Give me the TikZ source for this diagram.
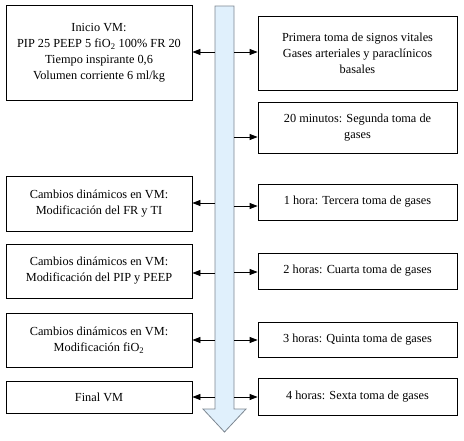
\documentclass[tikz,border=0pt]{standalone}
\usepackage{fontspec}
\setmainfont{Liberation Serif}
\usetikzlibrary{arrows.meta}
\definecolor{shaftfill}{RGB}{224,240,252}
\definecolor{shaftline}{RGB}{125,135,145}
\begin{document}
\begin{tikzpicture}[x=1pt,y=-1pt,
  box/.style={draw=black,line width=0.8pt,align=center,inner sep=2pt,
    font=\fontsize{12.3}{16}\selectfont,text=black},
  lbox/.style={box,minimum width=186pt},
  rbox/.style={box,minimum width=199pt},
  conn/.style={line width=0.8pt,-{Triangle[length=8pt,width=6pt]}}]
\useasboundingbox (0,0) rectangle (464,440);
% big timeline arrow
\draw[draw=shaftline,fill=shaftfill,line width=0.8pt]
  (215,6) -- (234,6) -- (234,409) -- (246,409) -- (224.5,432) -- (203,409) -- (215,409) -- cycle;
% left boxes
\node[lbox,minimum height=95pt] (l1) at (99,52.5) {Inicio VM:\\PIP 25 PEEP 5 fiO\textsubscript{2} 100\% FR 20\\Tiempo inspirante 0,6\\Volumen corriente 6 ml/kg};
\node[lbox,minimum height=55pt] (l2) at (99,203.5) {Cambios dinámicos en VM:\\Modificación del FR y TI};
\node[lbox,minimum height=54pt] (l3) at (99,271) {Cambios dinámicos en VM:\\Modificación del PIP y PEEP};
\node[lbox,minimum height=54pt] (l4) at (99,340) {Cambios dinámicos en VM:\\Modificación fiO\textsubscript{2}};
\node[lbox,minimum height=32pt] (l5) at (99,397) {Final VM};
% right boxes
\node[rbox,minimum height=74pt] (r1) at (357.5,53) {Primera toma de signos vitales\\Gases arteriales y paraclínicos\\basales};
\node[rbox,minimum height=51pt] (r2) at (357.5,127.5) {20 minutos: Segunda toma de\\gases};
\node[rbox,minimum height=36pt] (r3) at (357.5,202) {1 hora: Tercera toma de gases};
\node[rbox,minimum height=36pt] (r4) at (357.5,271) {2 horas: Cuarta toma de gases};
\node[rbox,minimum height=35pt] (r5) at (357.5,339.5) {3 horas: Quinta toma de gases};
\node[rbox,minimum height=37pt] (r6) at (357.5,396.5) {4 horas: Sexta toma de gases};
% connector start points on the timeline
\foreach \n/\y in {1/52,2/203,3/273,4/340,5/397}
  \coordinate (sl\n) at (215,\y);
\foreach \n/\y in {1/52,2/137,3/206,4/272,5/340,6/397}
  \coordinate (sr\n) at (234,\y);
\foreach \n in {1,...,5}
  \draw[conn] (sl\n) -- (sl\n -| l\n.east);
\foreach \n in {1,...,6}
  \draw[conn] (sr\n) -- (sr\n -| r\n.west);
\end{tikzpicture}
\end{document}
